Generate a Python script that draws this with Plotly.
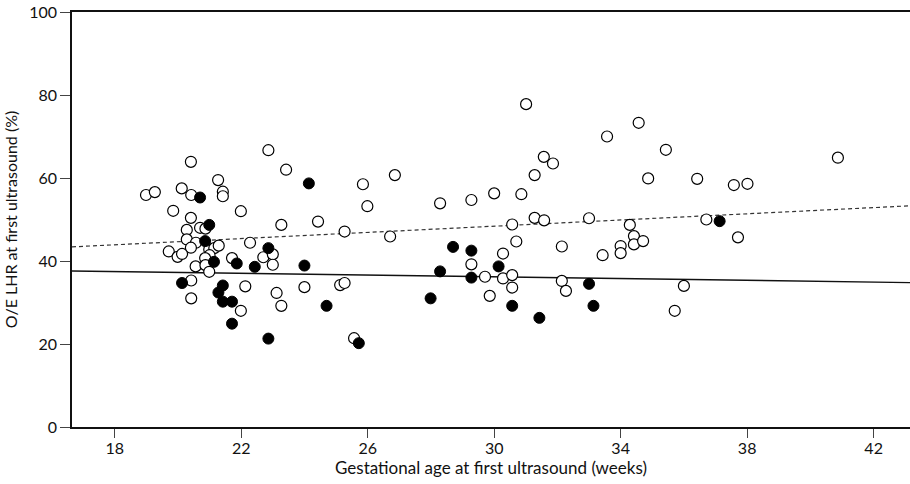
import plotly.graph_objects as go

# Gestational age (weeks) and O/E LHR (%) at first ultrasound
open_weeks = [
    22.86, 20.41, 23.42, 21.27, 18.99, 19.27, 20.12, 20.42, 21.42, 21.42,
    19.85, 21.99, 20.41, 23.27, 20.70, 20.87, 20.28, 20.28, 20.57, 20.41,
    22.28, 19.71, 19.99, 20.13, 20.99, 21.15, 21.29, 21.00, 20.86, 21.71,
    22.70, 23.00, 23.00, 20.56, 20.87, 20.99, 20.42, 22.13, 23.12, 23.27,
    20.42, 21.99,
    25.85, 26.86, 25.99, 24.43, 25.27, 26.71, 28.29, 29.28, 30.00, 30.86,
    30.57, 30.70, 30.28, 29.28, 29.71, 30.28, 30.57, 30.57, 29.86, 24.00,
    25.13, 25.27, 25.57,
    31.01, 34.57, 33.57, 35.43, 31.57, 31.86, 31.28, 34.87, 36.42, 31.28,
    31.58, 33.00, 34.29, 36.71, 32.14, 33.43, 34.00, 34.00, 34.42, 34.42,
    34.71, 32.14, 32.27, 36.00, 35.71,
    37.58, 38.01, 40.87, 37.71,
]
open_lhr = [
    66.7, 63.9, 62.0, 59.5, 55.9, 56.6, 57.5, 55.9, 56.7, 55.6,
    52.1, 52.0, 50.4, 48.7, 48.0, 47.8, 47.5, 45.2, 44.4, 43.2,
    44.4, 42.3, 41.0, 41.7, 42.8, 43.1, 43.7, 41.4, 40.7, 40.7,
    40.9, 41.6, 39.1, 38.7, 39.0, 37.4, 35.3, 33.9, 32.3, 29.2,
    31.0, 28.0,
    58.5, 60.7, 53.2, 49.5, 47.1, 45.9, 53.9, 54.7, 56.3, 56.1,
    48.8, 44.7, 41.8, 39.2, 36.2, 35.8, 36.6, 33.6, 31.6, 33.7,
    34.2, 34.7, 21.4,
    77.8, 73.3, 70.0, 66.8, 65.1, 63.5, 60.7, 59.9, 59.8, 50.4,
    49.8, 50.3, 48.7, 50.0, 43.5, 41.4, 43.6, 41.9, 46.0, 44.0,
    44.8, 35.2, 32.8, 34.0, 28.0,
    58.3, 58.6, 64.9, 45.7,
]

filled_weeks = [
    20.70, 20.99, 20.86, 22.86, 21.14, 21.86, 22.43, 20.13, 21.42, 21.28,
    21.42, 21.71, 21.71, 22.86, 24.14, 28.70, 29.28, 24.00, 28.29, 29.28,
    30.14, 24.70, 27.99, 30.57, 25.72, 31.43, 33.00, 33.14, 37.13,
]
filled_lhr = [
    55.3, 48.7, 44.8, 43.1, 39.8, 39.4, 38.6, 34.7, 34.1, 32.4,
    30.2, 30.2, 24.9, 21.3, 58.7, 43.4, 42.5, 38.9, 37.5, 36.0,
    38.7, 29.2, 31.0, 29.2, 20.2, 26.3, 34.5, 29.2, 49.6,
]

# Fitted regression lines (end points across the plotted age range)
fit_weeks = [16.65, 43.15]
fit_open = [43.4, 53.3]
fit_filled = [37.6, 34.8]

x_ticks = [18, 22, 26, 30, 34, 38, 42]
y_ticks = [0, 20, 40, 60, 80, 100]

FONT = "Lato"

fig = go.Figure()
fig.add_trace(go.Scatter(
    x=fit_weeks, y=fit_open, mode="lines",
    line=dict(color="#333333", width=1.2, dash="4px,3px"),
    hoverinfo="skip",
))
fig.add_trace(go.Scatter(
    x=fit_weeks, y=fit_filled, mode="lines",
    line=dict(color="#111111", width=1.4),
    hoverinfo="skip",
))
fig.add_trace(go.Scatter(
    x=open_weeks, y=open_lhr, mode="markers",
    marker=dict(size=11, color="white", line=dict(color="black", width=1.2)),
))
fig.add_trace(go.Scatter(
    x=filled_weeks, y=filled_lhr, mode="markers",
    marker=dict(size=11, color="black", line=dict(color="black", width=1)),
))

fig.update_layout(
    width=910, height=484,
    margin=dict(l=72, r=0, t=12, b=57),
    paper_bgcolor="white", plot_bgcolor="white",
    showlegend=False,
    font=dict(family=FONT, size=16, color="#111111"),
    xaxis=dict(
        range=[16.65, 43.15], tickvals=x_ticks,
        ticktext=[str(v) for v in x_ticks],
        showgrid=False, zeroline=False,
        showline=True, linecolor="#111111", linewidth=1.5, mirror=True,
        ticks="outside", ticklen=9, tickwidth=1, tickcolor="#444444",
        tickfont=dict(size=16), ticklabelstandoff=-3,
        title=dict(text="Gestational age at first ultrasound (weeks)",
                   font=dict(size=17), standoff=4),
    ),
    yaxis=dict(
        range=[0, 100], tickvals=y_ticks,
        ticktext=[str(v) for v in y_ticks],
        showgrid=False, zeroline=False,
        showline=True, linecolor="#111111", linewidth=1.5,
        ticks="outside", ticklen=10, tickwidth=1, tickcolor="#444444",
        tickfont=dict(size=16),
        title=dict(text="O/E LHR at first ultrasound (%)",
                   font=dict(size=16), standoff=8),
    ),
)

fig.write_html("out.html")
